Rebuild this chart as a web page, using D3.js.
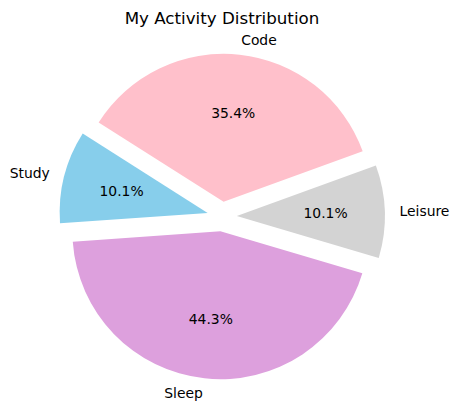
<!DOCTYPE html>
<html>
<head>
<meta charset="utf-8">
<script src="https://cdn.jsdelivr.net/npm/d3@7"></script>
<style>
  body { margin: 0; background: #fff; }
  text { font-family: "DejaVu Sans", sans-serif; fill: #000; }
</style>
</head>
<body>
<div id="chart"></div>
<script>
// data, in matplotlib order (counterclockwise from startangle)
const activities = ["Code", "Study", "Sleep", "Leisure"];
const hours = [28, 8, 35, 8];
const sliceColors = ["#FFC0CB", "#87CEEB", "#DDA0DD", "#D3D3D3"];
const explodeBy = [0.1, 0.1, 0.1, 0.1];

const width = 459, height = 411;
const cx = 222, cy = 216.5, radius = 148;
const startDeg = 20; // measured counterclockwise from 3 o'clock

const svg = d3.select("#chart")
  .append("svg")
  .attr("width", width)
  .attr("height", height);

svg.append("text")
  .attr("x", cx)
  .attr("y", 24)
  .attr("text-anchor", "middle")
  .style("font-size", "16.7px")
  .text("My Activity Distribution");

// d3 angles: 0 at 12 o'clock, clockwise; go backwards for counterclockwise
const a0 = (90 - startDeg) * Math.PI / 180;
const pie = d3.pie()
  .sort(null)
  .value(d => d)
  .startAngle(a0)
  .endAngle(a0 - 2 * Math.PI);

const arc = d3.arc()
  .innerRadius(0)
  .outerRadius(radius);

const arcs = pie(hours);
const total = d3.sum(hours);

const g = svg.append("g")
  .attr("transform", `translate(${cx},${cy})`);

const slice = g.selectAll("g.slice")
  .data(arcs)
  .enter()
  .append("g")
  .attr("class", "slice")
  .attr("transform", (d, i) => {
    const mid = (d.startAngle + d.endAngle) / 2;
    const off = explodeBy[i] * radius;
    return `translate(${Math.sin(mid) * off},${-Math.cos(mid) * off})`;
  });

slice.append("path")
  .attr("d", arc)
  .attr("fill", (d, i) => sliceColors[i]);

// percentages at 0.6 r
slice.append("text")
  .attr("x", d => Math.sin((d.startAngle + d.endAngle) / 2) * radius * 0.6)
  .attr("y", d => -Math.cos((d.startAngle + d.endAngle) / 2) * radius * 0.6)
  .attr("dy", "0.35em")
  .attr("text-anchor", "middle")
  .style("font-size", "13.9px")
  .text(d => (d.value / total * 100).toFixed(1) + "%");

// labels at 1.1 r
slice.append("text")
  .attr("x", d => Math.sin((d.startAngle + d.endAngle) / 2) * radius * 1.1)
  .attr("y", d => -Math.cos((d.startAngle + d.endAngle) / 2) * radius * 1.1)
  .attr("dy", "0.35em")
  .attr("text-anchor", d => Math.sin((d.startAngle + d.endAngle) / 2) > 0 ? "start" : "end")
  .style("font-size", "13.9px")
  .text((d, i) => activities[i]);
</script>
</body>
</html>
